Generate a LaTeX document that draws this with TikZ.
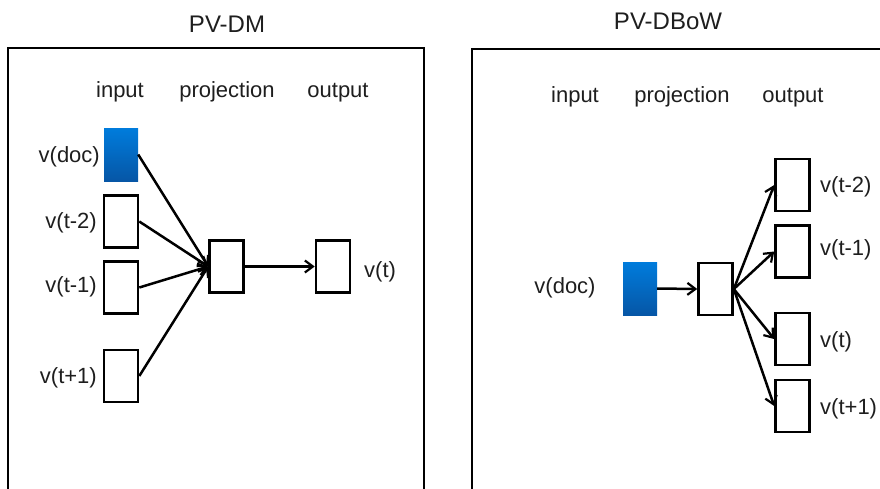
\documentclass[tikz,border=0pt]{standalone}
\usepackage{fontspec}
\setmainfont{Liberation Sans}
\usetikzlibrary{arrows.meta}
\definecolor{inktext}{RGB}{30,30,30}
\definecolor{bluetop}{RGB}{0,124,220}
\definecolor{bluebot}{RGB}{6,86,166}
\tikzset{
  vecbox/.style={draw=black, line width=2.6pt, fill=white, minimum width=34pt, minimum height=52pt, inner sep=0pt},
  docbox/.style={draw=none, top color=bluetop, bottom color=bluebot, minimum width=34pt, minimum height=53pt, inner sep=0pt},
  lbl/.style={font=\fontsize{22}{26}\selectfont, text=inktext, inner sep=0pt},
  hdr/.style={font=\fontsize{22}{26}\selectfont, text=inktext, inner sep=0pt, anchor=base},
  ttl/.style={font=\fontsize{24}{28}\selectfont, text=inktext, inner sep=0pt},
  frame/.style={draw=black, line width=2.6pt},
  conn/.style={line width=2.5pt, -{Straight Barb[length=8pt,width=12pt,line width=2.2pt]}}
}
\begin{document}
\begin{tikzpicture}[x=1pt,y=-1pt]
\useasboundingbox (0,0) rectangle (880,488);

% ---------- PV-DM ----------
\node[ttl] (t1) at (227,24) {PV-DM};
\draw[frame] (8,48) rectangle (424,490);
\node[hdr] (h1a) at (120,97) {input};
\node[hdr] (h1b) at (227,97) {projection};
\node[hdr] (h1c) at (338,97) {output};

\node[docbox] (d1) at (121,154.5) {};
\node[vecbox] (a2) at (121,221.5) {};
\node[vecbox] (a1) at (121,287.5) {};
\node[vecbox] (ap) at (121,376) {};
\node[vecbox] (p1) at (226.5,266.5) {};
\node[vecbox] (o1) at (333,266.5) {};

\node[lbl, anchor=east] (ld1) at (100,157) {v(doc)};
\node[lbl, anchor=east] (la2) at (97,223) {v(t-2)};
\node[lbl, anchor=east] (la1) at (97,287) {v(t-1)};
\node[lbl, anchor=east] (lap) at (97,378) {v(t+1)};
\node[lbl, anchor=west] (lo1) at (364,272) {v(t)};

\draw[conn] (d1.east) -- (p1.west);
\draw[conn] (a2.east) -- (p1.west);
\draw[conn] (a1.east) -- (p1.west);
\draw[conn] (ap.east) -- (p1.west);
\draw[conn] (p1.east) -- (o1.west);

% ---------- PV-DBoW ----------
\node[ttl] (t2) at (668,21) {PV-DBoW};
\draw[frame] (472,49) rectangle (900,490);
\node[hdr] (h2a) at (575,102) {input};
\node[hdr] (h2b) at (682,102) {projection};
\node[hdr] (h2c) at (793,102) {output};

\node[docbox] (d2) at (640,288.5) {};
\node[vecbox] (p2) at (715.5,289) {};
\node[vecbox] (b2) at (792.5,185) {};
\node[vecbox] (b1) at (792.5,251.5) {};
\node[vecbox] (b0) at (792.5,339) {};
\node[vecbox] (bp) at (792.5,406) {};

\node[lbl, anchor=center] (ld2) at (565,287.5) {v(doc)};
\node[lbl, anchor=west] (lb2) at (820,187) {v(t-2)};
\node[lbl, anchor=west] (lb1) at (820,250) {v(t-1)};
\node[lbl, anchor=west] (lb0) at (820,342) {v(t)};
\node[lbl, anchor=west] (lbp) at (820,409) {v(t+1)};

\draw[conn] (d2.east) -- (p2.west);
\draw[conn] (p2.east) -- (b2.west);
\draw[conn] (p2.east) -- (b1.west);
\draw[conn] (p2.east) -- (b0.west);
\draw[conn] (p2.east) -- (bp.west);
\end{tikzpicture}
\end{document}
